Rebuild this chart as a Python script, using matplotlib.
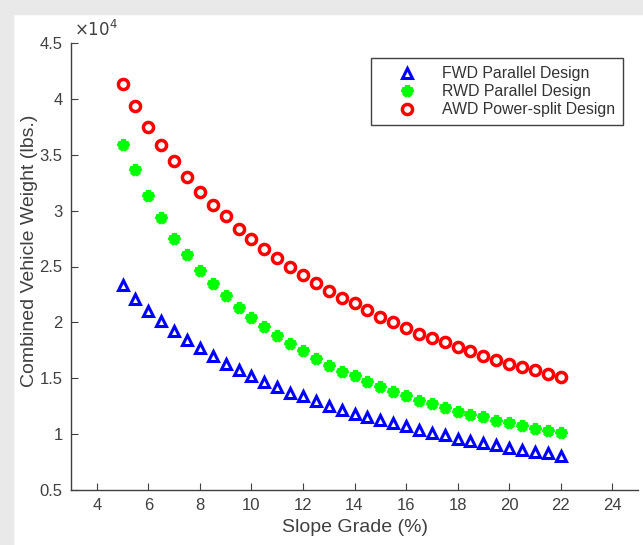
import matplotlib
matplotlib.use("Agg")
import matplotlib.pyplot as plt
from matplotlib.patches import Rectangle
from matplotlib.ticker import FuncFormatter

plt.rcParams["font.family"] = ["Liberation Sans", "DejaVu Sans"]

# slope grade (%)
GRADE = [5, 5.5, 6, 6.5, 7, 7.5, 8, 8.5, 9, 9.5, 10, 10.5, 11, 11.5, 12, 12.5, 13, 13.5,
         14, 14.5, 15, 15.5, 16, 16.5, 17, 17.5, 18, 18.5, 19, 19.5, 20, 20.5, 21, 21.5, 22]

# combined vehicle weight (lbs.)
FWD = [23300, 22100, 21000, 20100, 19200, 18400, 17700, 17000, 16300, 15700, 15200, 14700,
       14200, 13700, 13400, 13000, 12500, 12200, 11800, 11500, 11300, 11000, 10700, 10400,
       10100, 9900, 9600, 9400, 9200, 9000, 8800, 8600, 8400, 8300, 8000]
RWD = [35900, 33600, 31300, 29300, 27500, 26000, 24600, 23400, 22400, 21300, 20400, 19600,
       18800, 18100, 17400, 16700, 16100, 15600, 15200, 14700, 14200, 13800, 13400, 13000,
       12700, 12300, 12000, 11700, 11500, 11200, 11000, 10700, 10500, 10300, 10100]
AWD = [41300, 39400, 37500, 35900, 34400, 33000, 31700, 30500, 29500, 28400, 27500, 26600,
       25800, 25000, 24200, 23500, 22800, 22200, 21700, 21100, 20500, 20000, 19500, 19000,
       18600, 18200, 17800, 17400, 17000, 16600, 16300, 16000, 15700, 15400, 15100]

LABELS = ["FWD Parallel Design", "RWD Parallel Design", "AWD Power-split Design"]

fig = plt.figure(figsize=(6.43, 5.45), dpi=100)
# screenshot frame (light grey band on top / left)
fig.patches.append(Rectangle((0, 1 - 14 / 545), 1, 14 / 545, transform=fig.transFigure,
                             color="#e9e9e9", zorder=0))
fig.patches.append(Rectangle((0, 0), 13 / 643, 1, transform=fig.transFigure,
                             color="#e9e9e9", zorder=0))

ax = fig.add_axes([71 / 643, 1 - 490 / 545, 567 / 643, 447 / 545])
ax.plot(GRADE, FWD, ls="none", marker="^", ms=7.5, mfc="none", mec="#0000ff", mew=2.2,
        label=LABELS[0])
ax.plot(GRADE, RWD, ls="none", marker="*", ms=8, mfc="#00ff00", mec="#00ff00", mew=3.6,
        label=LABELS[1])
ax.plot(GRADE, AWD, ls="none", marker="o", ms=7.3, mfc="none", mec="#ff0000", mew=2.5,
        label=LABELS[2])

ax.set_xlim(3, 25)
ax.set_ylim(5000, 45000)
ax.set_xticks(range(4, 25, 2))
ax.set_yticks([5000 * i for i in range(1, 10)])
ax.yaxis.set_major_formatter(FuncFormatter(lambda v, p: f"{v / 1e4:g}"))
ax.text(0.005, 1.008, r"$\times10^4$", transform=ax.transAxes, ha="left", va="bottom",
        fontsize=12, color="#404040")

for s in ["top", "right"]:
    ax.spines[s].set_visible(False)
for s in ["left", "bottom"]:
    ax.spines[s].set_color("#404040")
    ax.spines[s].set_linewidth(1.0)
ax.tick_params(direction="in", length=5, colors="#404040", labelsize=12, pad=6)

ax.set_xlabel("Slope Grade (%)", fontsize=14, color="#404040", labelpad=4)
ax.set_ylabel("Combined Vehicle Weight (lbs.)", fontsize=14, color="#404040")
ax.yaxis.set_label_coords(-0.058, 0.534)

leg = ax.legend(loc="upper right", bbox_to_anchor=(0.974, 0.966), borderaxespad=0,
                fontsize=11.4, fancybox=False, framealpha=1, edgecolor="#404040",
                handlelength=3.6, handletextpad=0.4, labelspacing=0.2, borderpad=0.5)
leg.get_frame().set_linewidth(1.0)
for t in leg.get_texts():
    t.set_color("#333333")

fig.savefig("out.png", dpi=100)
